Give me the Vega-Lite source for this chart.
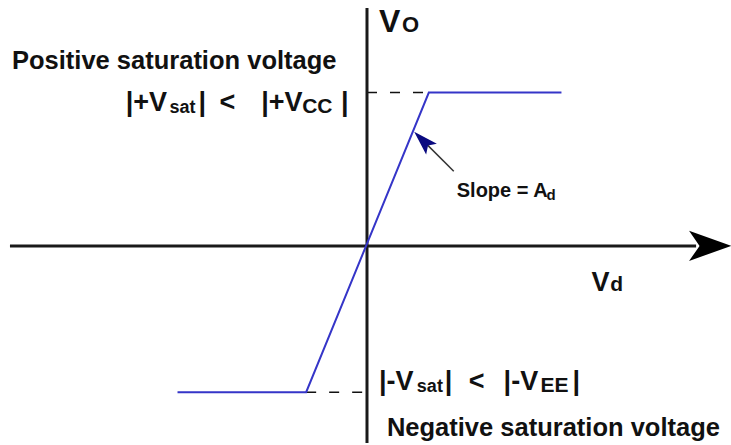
{
  "$schema": "https://vega.github.io/schema/vega-lite/v6.json",
  "autosize": {"type": "fit", "contains": "padding"},
  "width": 731,
  "height": 445,
  "padding": 0,
  "background": "white",
  "config": {"view": {"stroke": null}, "text": {"font": "Liberation Sans", "fontWeight": "bold", "align": "left", "baseline": "alphabetic", "color": "#111111"}},
  "datasets": {
    "transfer": [
      {"vd": -19.0, "vo": -14.7, "seq": 1},
      {"vd": -6.1, "vo": -14.7, "seq": 2},
      {"vd": 6.2, "vo": 15.4, "seq": 3},
      {"vd": 19.5, "vo": 15.4, "seq": 4}
    ],
    "axes": [
      {"name": "Vo axis", "x": 0, "x2": 0, "y": 23.9, "y2": -19.8},
      {"name": "Vd axis", "x": -35.8, "x2": 33.0, "y": 0, "y2": 0}
    ],
    "guides": [
      {"name": "+Vsat", "x": 0, "x2": 6.2, "y": 15.4, "y2": 15.4},
      {"name": "-Vsat", "x": -6.1, "x2": 0, "y": -14.7, "y2": -14.7}
    ],
    "pointer": [{"x": 8.7, "y": 7.5, "x2": 5.7, "y2": 10.5}],
    "pointerHead": [{"x": 5.6, "y": 10.6}],
    "axisHead": [{"x": 34.4, "y": 0}],
    "labels": [
      {"label": "Positive saturation voltage", "role": "caption", "x": -35.6, "y": 17.8},
      {"label": "Negative saturation voltage", "role": "caption", "x": 2.0, "y": -19.1},
      {"label": "|+V", "role": "expr", "x": -24.2, "y": 13.6},
      {"label": "sat", "role": "sub", "x": -19.8, "y": 13.3},
      {"label": "|", "role": "expr", "x": -16.9, "y": 13.6},
      {"label": "<", "role": "expr", "x": -14.8, "y": 13.6},
      {"label": "|+V", "role": "expr", "x": -10.6, "y": 13.6},
      {"label": "CC", "role": "sub2", "x": -6.5, "y": 13.3},
      {"label": "|", "role": "expr", "x": -2.6, "y": 13.6},
      {"label": "|-V", "role": "expr", "x": 1.2, "y": -14.5},
      {"label": "sat", "role": "sub", "x": 5.0, "y": -14.7},
      {"label": "|", "role": "expr", "x": 7.8, "y": -14.5},
      {"label": "<", "role": "expr", "x": 10.2, "y": -14.5},
      {"label": "|-V", "role": "expr", "x": 13.7, "y": -14.5},
      {"label": "EE", "role": "sub2", "x": 17.4, "y": -14.7},
      {"label": "|", "role": "expr", "x": 20.6, "y": -14.5},
      {"label": "V", "role": "vo", "x": 1.2, "y": 21.5},
      {"label": "O", "role": "vosub", "x": 3.5, "y": 21.5},
      {"label": "V", "role": "vd", "x": 22.5, "y": -4.5},
      {"label": "d", "role": "vdsub", "x": 24.4, "y": -4.5},
      {"label": "Slope = A", "role": "slope", "x": 9.0, "y": 4.9},
      {"label": "d", "role": "slopesub", "x": 18.0, "y": 4.6}
    ]
  },
  "encoding": {
    "x": {"type": "quantitative", "scale": {"domain": [-36.8, 36.3], "nice": false, "zero": false}, "axis": null},
    "y": {"type": "quantitative", "scale": {"domain": [-19.8, 24.7], "nice": false, "zero": false}, "axis": null}
  },
  "layer": [
    {
      "data": {"name": "guides"},
      "mark": {"type": "rule", "color": "#111111", "strokeWidth": 1.5, "strokeDash": [10, 13]},
      "encoding": {"x": {"field": "x", "type": "quantitative"}, "x2": {"field": "x2"}, "y": {"field": "y", "type": "quantitative"}, "y2": {"field": "y2"}}
    },
    {
      "data": {"name": "axes"},
      "mark": {"type": "rule", "color": "#1a1a1a", "strokeWidth": 3},
      "encoding": {"x": {"field": "x", "type": "quantitative"}, "x2": {"field": "x2"}, "y": {"field": "y", "type": "quantitative"}, "y2": {"field": "y2"}}
    },
    {
      "data": {"name": "axisHead"},
      "mark": {"type": "point", "shape": "M1,0 L-1,-0.72 L-0.5,0 L-1,0.72 Z", "size": 1764, "filled": true, "color": "#000000", "opacity": 1},
      "encoding": {"x": {"field": "x", "type": "quantitative"}, "y": {"field": "y", "type": "quantitative"}}
    },
    {
      "data": {"name": "transfer"},
      "mark": {"type": "line", "color": "#3535c8", "strokeWidth": 2},
      "encoding": {"x": {"field": "vd", "type": "quantitative"}, "y": {"field": "vo", "type": "quantitative"}, "order": {"field": "seq", "type": "quantitative"}}
    },
    {
      "data": {"name": "pointer"},
      "mark": {"type": "rule", "color": "#333333", "strokeWidth": 1.5},
      "encoding": {"x": {"field": "x", "type": "quantitative"}, "x2": {"field": "x2"}, "y": {"field": "y", "type": "quantitative"}, "y2": {"field": "y2"}}
    },
    {
      "data": {"name": "pointerHead"},
      "mark": {"type": "point", "shape": "M0,-1 L0.62,1 L0,0.6 L-0.62,1 Z", "size": 600, "angle": 315, "filled": true, "color": "#0a0a80", "opacity": 1},
      "encoding": {"x": {"field": "x", "type": "quantitative"}, "y": {"field": "y", "type": "quantitative"}}
    },
    {
      "data": {"name": "labels"},
      "transform": [{"filter": "datum.role === 'caption'"}],
      "mark": {"type": "text", "fontSize": 25.5},
      "encoding": {"x": {"field": "x", "type": "quantitative"}, "y": {"field": "y", "type": "quantitative"}, "text": {"field": "label"}}
    },
    {
      "data": {"name": "labels"},
      "transform": [{"filter": "datum.role === 'expr'"}],
      "mark": {"type": "text", "fontSize": 27},
      "encoding": {"x": {"field": "x", "type": "quantitative"}, "y": {"field": "y", "type": "quantitative"}, "text": {"field": "label"}}
    },
    {
      "data": {"name": "labels"},
      "transform": [{"filter": "datum.role === 'sub'"}],
      "mark": {"type": "text", "fontSize": 18},
      "encoding": {"x": {"field": "x", "type": "quantitative"}, "y": {"field": "y", "type": "quantitative"}, "text": {"field": "label"}}
    },
    {
      "data": {"name": "labels"},
      "transform": [{"filter": "datum.role === 'sub2'"}],
      "mark": {"type": "text", "fontSize": 21},
      "encoding": {"x": {"field": "x", "type": "quantitative"}, "y": {"field": "y", "type": "quantitative"}, "text": {"field": "label"}}
    },
    {
      "data": {"name": "labels"},
      "transform": [{"filter": "datum.role === 'vo'"}],
      "mark": {"type": "text", "fontSize": 32},
      "encoding": {"x": {"field": "x", "type": "quantitative"}, "y": {"field": "y", "type": "quantitative"}, "text": {"field": "label"}}
    },
    {
      "data": {"name": "labels"},
      "transform": [{"filter": "datum.role === 'vosub'"}],
      "mark": {"type": "text", "fontSize": 22},
      "encoding": {"x": {"field": "x", "type": "quantitative"}, "y": {"field": "y", "type": "quantitative"}, "text": {"field": "label"}}
    },
    {
      "data": {"name": "labels"},
      "transform": [{"filter": "datum.role === 'vd'"}],
      "mark": {"type": "text", "fontSize": 27},
      "encoding": {"x": {"field": "x", "type": "quantitative"}, "y": {"field": "y", "type": "quantitative"}, "text": {"field": "label"}}
    },
    {
      "data": {"name": "labels"},
      "transform": [{"filter": "datum.role === 'vdsub'"}],
      "mark": {"type": "text", "fontSize": 21},
      "encoding": {"x": {"field": "x", "type": "quantitative"}, "y": {"field": "y", "type": "quantitative"}, "text": {"field": "label"}}
    },
    {
      "data": {"name": "labels"},
      "transform": [{"filter": "datum.role === 'slope'"}],
      "mark": {"type": "text", "fontSize": 20},
      "encoding": {"x": {"field": "x", "type": "quantitative"}, "y": {"field": "y", "type": "quantitative"}, "text": {"field": "label"}}
    },
    {
      "data": {"name": "labels"},
      "transform": [{"filter": "datum.role === 'slopesub'"}],
      "mark": {"type": "text", "fontSize": 15},
      "encoding": {"x": {"field": "x", "type": "quantitative"}, "y": {"field": "y", "type": "quantitative"}, "text": {"field": "label"}}
    }
  ]
}
